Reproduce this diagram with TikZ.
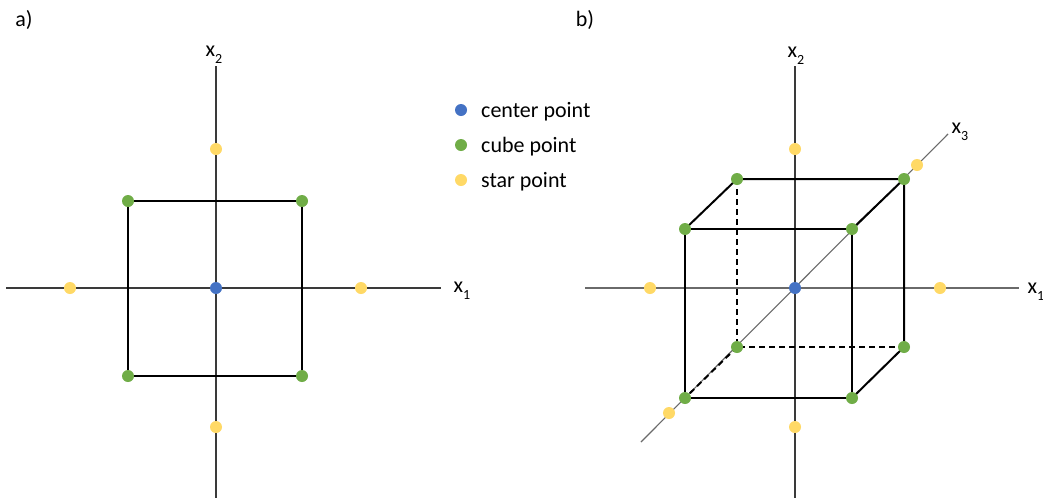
\documentclass[tikz,border=0pt]{standalone}
\usepackage{fontspec}
\setmainfont{Carlito}
\definecolor{cblue}{HTML}{4472C4}
\definecolor{cgreen}{HTML}{70AD47}
\definecolor{cyellow}{HTML}{FFD966}
\definecolor{axa}{HTML}{3A3A3A}
\definecolor{axb}{HTML}{6A6A6A}
\newcommand{\xlab}[1]{x\raisebox{-0.3em}{\fontsize{14}{14}\selectfont #1}}
\tikzset{
  dot/.style={circle,inner sep=0pt,minimum size=12pt,draw=none},
  cpt/.style={dot,fill=cblue},
  gpt/.style={dot,fill=cgreen},
  ypt/.style={dot,fill=cyellow},
  axisa/.style={draw=axa,line width=1.1pt},
  axisb/.style={draw=axb,line width=1.1pt},
  edge/.style={draw=black,line width=2pt},
  hedge/.style={edge,dashed,dash pattern=on 6pt off 4pt},
  lab/.style={font=\fontsize{22}{25}\selectfont,inner sep=0pt},
  leg/.style={font=\fontsize{22}{25}\selectfont,inner sep=0pt,anchor=base west}
}
\begin{document}
\begin{tikzpicture}[x=1pt,y=-1pt]
\useasboundingbox (0,0) rectangle (1043,499);
\fill[white] (0,0) rectangle (1043,499);
% panel labels
\node[lab] (la) at (24,20) {a)};
\node[lab] (lb) at (585,20) {b)};
% ---------- panel a ----------
\coordinate (aL) at (6,288);
\coordinate (aR) at (441,288);
\coordinate (aT) at (216,66);
\coordinate (aB) at (216,498);
\draw[axisa] (aL) -- (aR);
\draw[axisa] (aT) -- (aB);
\node[lab] (ax1) at (462,291) {\xlab{1}};
\node[lab] (ax2) at (214,55) {\xlab{2}};
\coordinate (a1) at (128,201);
\coordinate (a2) at (302,201);
\coordinate (a3) at (302,376);
\coordinate (a4) at (128,376);
\draw[edge] (a1) -- (a2) -- (a3) -- (a4) -- cycle;
\node[gpt] (ga1) at (a1) {};
\node[gpt] (ga2) at (a2) {};
\node[gpt] (ga3) at (a3) {};
\node[gpt] (ga4) at (a4) {};
\node[cpt] (ca) at (216,288) {};
\node[ypt] (ya1) at (216,149) {};
\node[ypt] (ya2) at (216,427) {};
\node[ypt] (ya3) at (70,288) {};
\node[ypt] (ya4) at (361,288) {};
% ---------- legend ----------
\node[cpt] (lc) at (461,110) {};
\node[gpt] (lg) at (461,145) {};
\node[ypt] (ly) at (461,180) {};
\node[leg] (tc) at (481,117) {center point};
\node[leg] (tg) at (481,152) {cube point};
\node[leg] (ty) at (481,187) {star point};
% ---------- panel b ----------
\coordinate (bL) at (585,288);
\coordinate (bR) at (1019,288);
\coordinate (bT) at (795,66);
\coordinate (bB) at (795,498);
\coordinate (dA) at (641,442);
\coordinate (dB) at (948,134);
\draw[axisb] (bL) -- (bR);
\draw[axisa] (bT) -- (bB);
\draw[axisb] (dA) -- (dB);
\node[lab] (bx1) at (1036,292) {\xlab{1}};
\node[lab] (bx2) at (796,56) {\xlab{2}};
\node[lab] (bx3) at (960,132) {\xlab{3}};
% cube vertices
\coordinate (f1) at (685,229);
\coordinate (f2) at (852,229);
\coordinate (f3) at (852,398);
\coordinate (f4) at (685,398);
\coordinate (k1) at (737,179);
\coordinate (k2) at (904,179);
\coordinate (k3) at (904,347);
\coordinate (k4) at (737,347);
\draw[edge] (f1) -- (f2) -- (f3) -- (f4) -- cycle;
\draw[edge] (f1) -- (k1) -- (k2) -- (k3) -- (f3);
\draw[edge] (f2) -- (k2);
\draw[hedge] (k1) -- (k4) -- (k3);
\draw[hedge] (k4) -- (f4);
\foreach \p in {f1,f2,f3,f4,k1,k2,k3,k4}{\node[gpt] (g\p) at (\p) {};}
\node[cpt] (cb) at (795,288) {};
\node[ypt] (yb1) at (795,149) {};
\node[ypt] (yb2) at (795,427) {};
\node[ypt] (yb3) at (650,288) {};
\node[ypt] (yb4) at (940,288) {};
\node[ypt] (yb5) at (917,165) {};
\node[ypt] (yb6) at (669,413) {};
\end{tikzpicture}
\end{document}
